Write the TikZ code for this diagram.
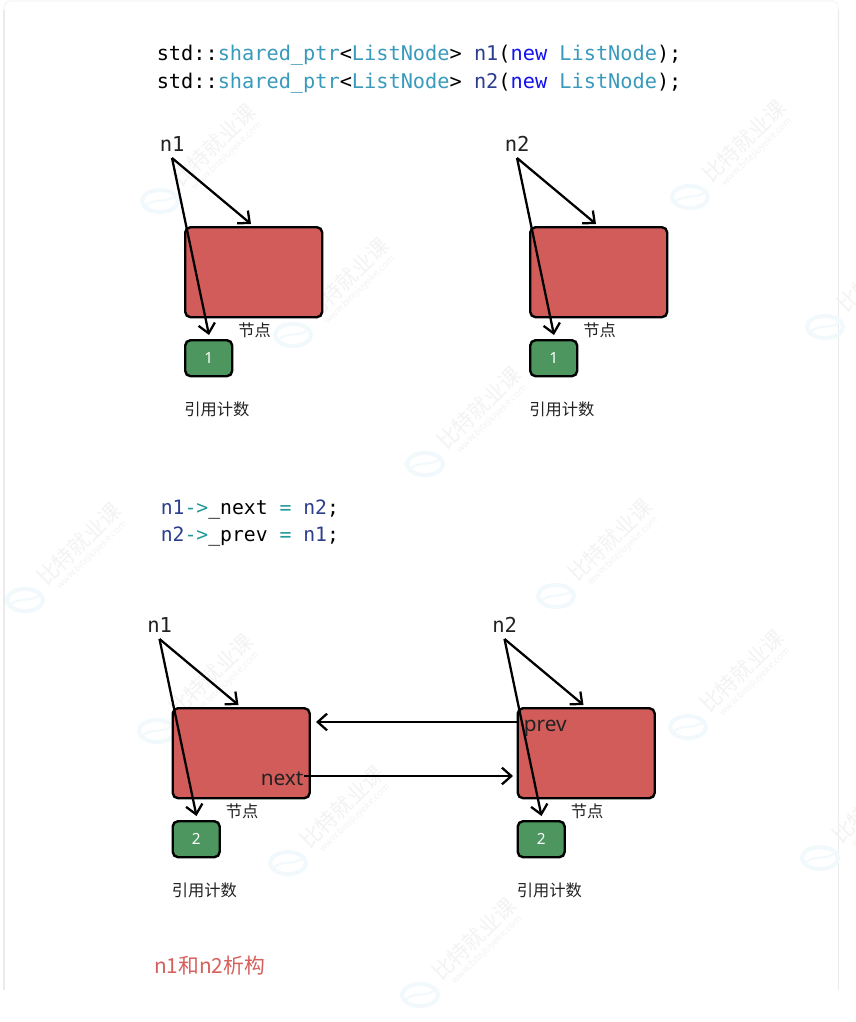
\documentclass[tikz,border=0pt]{standalone}
\usepackage{fontspec}
\usetikzlibrary{arrows.meta}
\setmainfont{Noto Sans CJK SC}
\newfontfamily\codefont{DejaVu Sans Mono}
\newfontfamily\labelfont{Noto Sans}
\definecolor{redbox}{HTML}{D25C5A}
\definecolor{greenbox}{HTML}{4E9660}
\definecolor{typeteal}{HTML}{3A9ABC}
\definecolor{varnavy}{HTML}{2C3F8E}
\definecolor{kwblue}{HTML}{1212F0}
\definecolor{opteal}{HTML}{1F9A9A}
\definecolor{titlered}{HTML}{D6605C}
\definecolor{cardline}{HTML}{EBEBEB}
\definecolor{cardtop}{HTML}{F6F6F6}
\definecolor{wmgray}{HTML}{F3F3F3}
\definecolor{wmblue}{HTML}{F1F9FD}
\definecolor{inktext}{HTML}{222222}
\newcommand{\pxfont}[1]{\fontsize{#1}{#1}\selectfont}
\tikzset{
  x=0.75pt,y=-0.75pt,
  redrect/.style={draw=black,line width=1.8pt,fill=redbox,rounded corners=4pt,inner sep=0pt,minimum width=102.75pt,minimum height=67.5pt,anchor=north west},
  greenrect/.style={draw=black,line width=1.8pt,fill=greenbox,rounded corners=4pt,inner sep=0pt,minimum width=35.25pt,minimum height=27pt,anchor=north west,text=white,font=\labelfont\pxfont{11.5}},
  conn/.style={draw=black,line width=1.7pt,-{Straight Barb[length=7pt,width=12.5pt,line width=1.7pt]}},
  codeline/.style={anchor=base west,inner sep=0pt,font=\codefont\pxfont{15.2}},
  ptrname/.style={anchor=base west,inner sep=0pt,text=inktext,font=\codefont\pxfont{15.4}},
  fieldname/.style={anchor=base west,inner sep=0pt,text=inktext,font=\labelfont\pxfont{15.6}},
  smalllabel/.style={anchor=base west,inner sep=0pt,text=inktext,font=\pxfont{12.2}},
  wmtext/.style={rotate=44,text=wmgray,inner sep=0pt,font=\pxfont{16}},
  wmurl/.style={rotate=44,text=wmgray,inner sep=0pt,font=\labelfont\pxfont{7}},
}
% one group: #1,#2 offset, #3 pointer name, #4 count, #5 prefix
\newcommand{\nodegroup}[5]{%
  \node[ptrname] (#5name) at (#1+159.5,#2+151) {#3};
  \coordinate (#5root) at (#1+172,#2+158);
  \node[redrect] (#5red) at (#1+184,#2+226) {};
  \node[greenrect] (#5count) at (#1+184,#2+339) {#4};
  \coordinate (#5redtip) at (#1+251,#2+224);
  \coordinate (#5counttip) at (#1+209,#2+335);
  \draw[conn] (#5root) -- (#5redtip);
  \draw[conn] (#5root) -- (#5counttip);
  \node[smalllabel] (#5nodelabel) at (#1+238,#2+336) {节点};
  \node[smalllabel] (#5countlabel) at (#1+184,#2+415) {引用计数};
}
\begin{document}
\begin{tikzpicture}
\useasboundingbox (0,0) rectangle (856,1022);
\fill[white] (0,0) rectangle (856,1022);
% card outline
\draw[cardtop,line width=0.8pt,rounded corners=5pt] (4,40) -- (4,1) -- (838.5,1) -- (838.5,40);
\draw[cardline,line width=1pt] (4,990) -- (4,10);
\draw[cardline,line width=1pt] (838.5,990) -- (838.5,10);
% watermarks
\foreach \wx/\wy in {160/201,690/197,293/335,825/327,425/464,25/600,556/596,157/731,688/727,288/863,820/858,420/995}{
  \draw[wmblue,line width=3pt] (\wx,\wy) ellipse[x radius=18,y radius=11];
  \draw[wmblue,line width=1.5pt] (\wx-15,\wy+5) .. controls (\wx-5,\wy-4) and (\wx+5,\wy+3) .. (\wx+15,\wy-5);
  \node[wmtext] at (\wx+54,\wy-56) {比特就业课};
  \node[wmurl] at (\wx+67,\wy-45) {www.bitejiuyeke.com};
}
% code
\node[codeline] (code1) at (156.5,60) {std::\textcolor{typeteal}{shared\_ptr}<\textcolor{typeteal}{ListNode}> \textcolor{varnavy}{n1}(\textcolor{kwblue}{new} \textcolor{typeteal}{ListNode});};
\node[codeline] (code2) at (156.5,88) {std::\textcolor{typeteal}{shared\_ptr}<\textcolor{typeteal}{ListNode}> \textcolor{varnavy}{n2}(\textcolor{kwblue}{new} \textcolor{typeteal}{ListNode});};
\node[codeline,font=\codefont\pxfont{14.8}] (code3) at (160.5,514) {\textcolor{varnavy}{n1}\textcolor{opteal}{->}\_next \textcolor{opteal}{=} \textcolor{varnavy}{n2};};
\node[codeline,font=\codefont\pxfont{14.8}] (code4) at (160.5,541) {\textcolor{varnavy}{n2}\textcolor{opteal}{->}\_prev \textcolor{opteal}{=} \textcolor{varnavy}{n1};};
% groups
\nodegroup{0}{0}{n1}{1}{a}
\nodegroup{345}{0}{n2}{1}{b}
\nodegroup{-12.5}{481}{n1}{2}{c}
\nodegroup{332.5}{481}{n2}{2}{d}
% next / prev
\node[fieldname] (nextlabel) at (260.5,785) {next};
\node[fieldname] (prevlabel) at (523.5,731) {prev};
\coordinate (nextstart) at (304,776);
\coordinate (nextend) at (513,776);
\coordinate (prevstart) at (517,722);
\coordinate (prevend) at (316,722);
\draw[conn] (nextstart) -- (nextend);
\draw[conn] (prevstart) -- (prevend);
% title
\node[anchor=base west,inner sep=0pt,text=titlered,font=\pxfont{15.6}] (title) at (154,973) {n1和n2析构};
\end{tikzpicture}
\end{document}
